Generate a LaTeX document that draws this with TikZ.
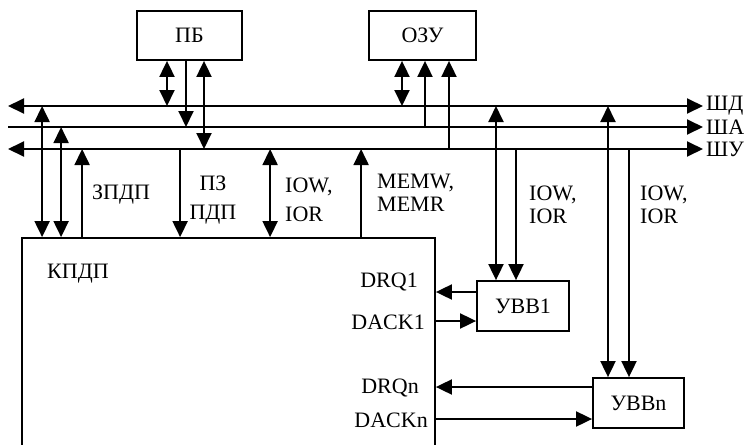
\documentclass[tikz,border=0pt]{standalone}
\usepackage{fontspec}
\setmainfont{Liberation Serif}
\usetikzlibrary{arrows.meta, positioning, calc}

\begin{document}
\begin{tikzpicture}[
  x=1pt, y=-1pt,
  blk/.style={draw, rectangle, line width=1.8pt, inner sep=0pt,
              font=\fontsize{22}{26}\selectfont},
  lbl/.style={inner sep=0pt, align=left, font=\fontsize{22}{26}\selectfont},
  sig/.style={line width=1.9pt, -{Triangle[length=16pt,width=15pt]}},
  dsig/.style={line width=1.9pt, {Triangle[length=16pt,width=15pt]}-{Triangle[length=16pt,width=15pt]}},
]
\useasboundingbox (0,0) rectangle (756,445);

%% Blocks
\node[blk, minimum width=105pt, minimum height=49pt] (pb)  at (189.5,35.5) {ПБ};
\node[blk, minimum width=107pt, minimum height=49pt] (ozu) at (422.5,35.5) {ОЗУ};
\node[blk, minimum width=413pt, minimum height=232pt] (kpdp) at (228.5,354) {};
\node[blk, minimum width=92pt, minimum height=50pt] (uvv1) at (523,306) {УВВ1};
\node[blk, minimum width=91pt, minimum height=50pt] (uvvn) at (638.5,403) {УВВn};

%% Buses
\coordinate (shdL) at (8,106);   \coordinate (shdR) at (703,106);
\coordinate (shaL) at (8,127);   \coordinate (shaR) at (703,127);
\coordinate (shuL) at (8,149);   \coordinate (shuR) at (703,149);
\draw[dsig] (shdL) -- (shdR);
\draw[sig]  (shaL) -- (shaR);
\draw[dsig] (shuL) -- (shuR);
\node[lbl, anchor=west] (shd) at ($(shdR)+(3,0)$) {ШД};
\node[lbl, anchor=west] (sha) at ($(shaR)+(3,0)$) {ША};
\node[lbl, anchor=west] (shu) at ($(shuR)+(3,0)$) {ШУ};

%% ПБ and ОЗУ
\draw[dsig] ([xshift=-22.5pt]pb.south) -- ([xshift=-22.5pt]pb.south |- shdL);
\draw[sig]  ([xshift=-3.5pt]pb.south) -- ([xshift=-3.5pt]pb.south |- shaL);
\draw[dsig] ([xshift=14.5pt]pb.south) -- ([xshift=14.5pt]pb.south |- shuL);
\draw[dsig] ([xshift=-20.5pt]ozu.south) -- ([xshift=-20.5pt]ozu.south |- shdL);
\draw[sig]  ([xshift=2.5pt]ozu.south |- shaL) -- ([xshift=2.5pt]ozu.south);
\draw[sig]  ([xshift=26.5pt]ozu.south |- shuL) -- ([xshift=26.5pt]ozu.south);

%% КПДП to the buses
\draw[dsig] ([xshift=21pt]kpdp.north west |- shdL) -- ([xshift=21pt]kpdp.north west);
\draw[dsig] ([xshift=40pt]kpdp.north west |- shaL) -- ([xshift=40pt]kpdp.north west);
\draw[sig]  ([xshift=61pt]kpdp.north west) -- ([xshift=61pt]kpdp.north west |- shuL);
\draw[sig]  ([xshift=159pt]kpdp.north west |- shuL) -- ([xshift=159pt]kpdp.north west);
\draw[dsig] ([xshift=249pt]kpdp.north west |- shuL) -- ([xshift=249pt]kpdp.north west);
\draw[sig]  ([xshift=340pt]kpdp.north west) -- ([xshift=340pt]kpdp.north west |- shuL);

\node[lbl, anchor=west] (zpdp) at (92,195) {ЗПДП};
\node[lbl, align=center] (pzpdp) at (213,200) {ПЗ\\[3pt]ПДП};
\node[lbl, anchor=west] (iowA) at (285,200) {IOW,\\[3pt]IOR};
\node[lbl, anchor=west] (memw) at (377,193) {MEMW,\\[-3pt]MEMR};
\node[lbl, anchor=west] (kpdpT) at (47,274) {КПДП};

%% УВВ1 and УВВn
\draw[dsig] ([xshift=-27pt]uvv1.north |- shdL) -- ([xshift=-27pt]uvv1.north);
\draw[sig]  ([xshift=-7pt]uvv1.north |- shuL) -- ([xshift=-7pt]uvv1.north);
\draw[dsig] ([xshift=-30.5pt]uvvn.north |- shdL) -- ([xshift=-30.5pt]uvvn.north);
\draw[sig]  ([xshift=-9.5pt]uvvn.north |- shuL) -- ([xshift=-9.5pt]uvvn.north);
\node[lbl, anchor=west] (iowB) at (529,205) {IOW,\\[-3pt]IOR};
\node[lbl, anchor=west] (iowC) at (640,205) {IOW,\\[-3pt]IOR};

\draw[sig] ([yshift=14pt]uvv1.west) -- ([yshift=14pt]uvv1.west -| kpdp.east);
\draw[sig] ([yshift=-15pt]uvv1.west -| kpdp.east) -- ([yshift=-15pt]uvv1.west);
\draw[sig] ([yshift=16pt]uvvn.west) -- ([yshift=16pt]uvvn.west -| kpdp.east);
\draw[sig] ([yshift=-16pt]uvvn.west -| kpdp.east) -- ([yshift=-16pt]uvvn.west);

\node[lbl, anchor=east] (drq1)  at (418,282) {DRQ1};
\node[lbl, anchor=east] (dack1) at (425,322) {DACK1};
\node[lbl, anchor=east] (drqn)  at (419,388) {DRQn};
\node[lbl, anchor=east] (dackn) at (428,420) {DACKn};
\end{tikzpicture}
\end{document}
